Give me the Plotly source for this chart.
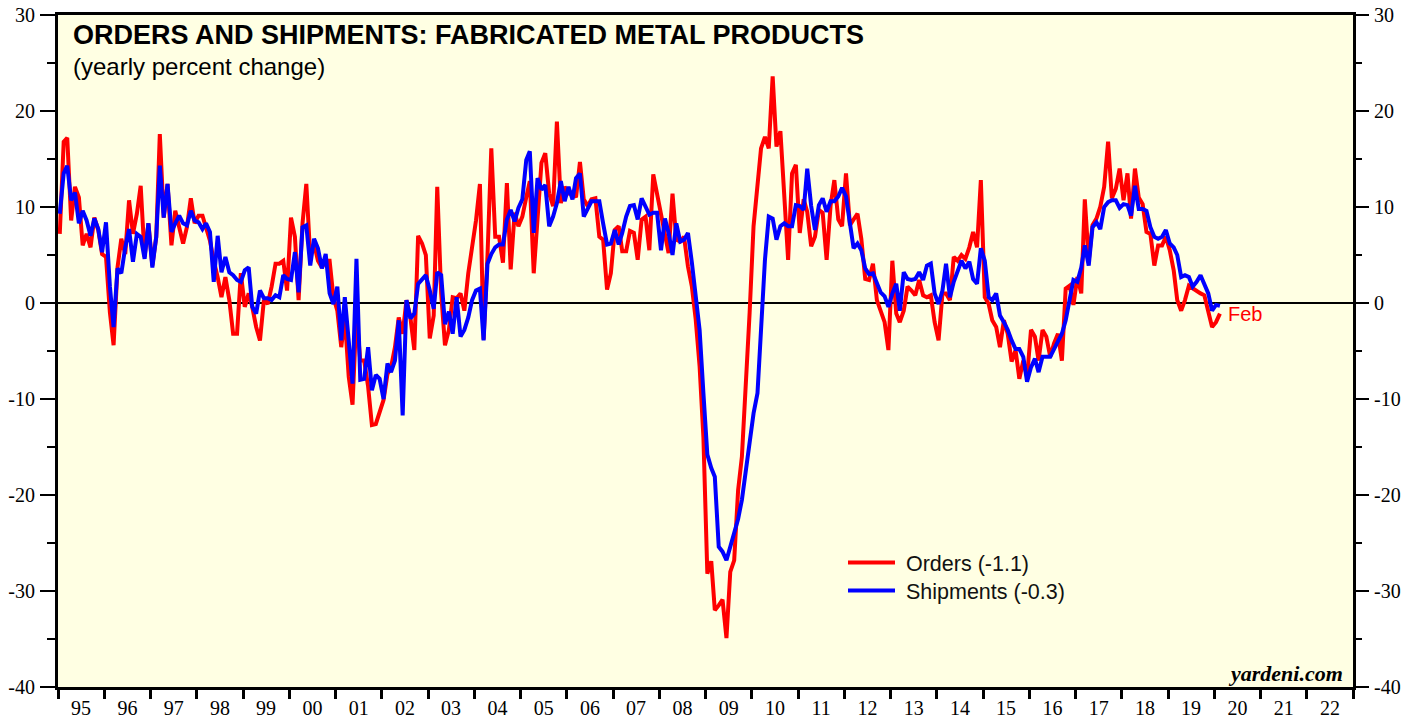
import pandas as pd
import plotly.graph_objects as go

# ---------------- data (yearly % change, monthly, Jan 1995 - Feb 2020) -------------
start_month = "1995-01"

orders = [
    7.2, 16.8, 17.2, 8.6, 12.1, 11.0, 6.0, 7.2, 5.8, 8.9, 7.6, 5.1,            # 1995
    4.8, -1.0, -4.4, 3.7, 6.7, 5.1, 10.7, 7.2, 9.3, 12.2, 4.8, 8.3,            # 1996
    3.9, 6.9, 17.6, 8.9, 12.4, 6.0, 9.6, 7.9, 6.2, 7.9, 10.9, 8.3,             # 1997
    9.1, 9.1, 7.9, 6.5, 4.4, 2.7, 0.6, 2.7, 0.3, -3.2, -3.2, 3.1,              # 1998
    -0.4, 1.0, -0.4, -2.5, -3.9, 0.3, -0.1, 1.7, 4.1, 4.1, 4.4, 1.3,           # 1999
    8.9, 6.9, 0.3, 8.3, 12.4, 4.8, 6.2, 4.4, 3.7, 4.4, 4.4, 0.6,               # 2000
    -0.8, -4.6, -1.5, -7.7, -10.6, -1.1, -6.0, -6.0, -8.7, -12.7, -12.6, -11.5,  # 2001
    -10.1, -7.4, -6.7, -4.6, -1.5, -3.2, 0.3, -1.5, -4.9, 7.0, 6.2, 5.0,       # 2002
    -3.7, -1.3, 12.1, 1.0, -4.4, -2.8, 0.6, 0.5, 1.0, -0.8, 3.1, 5.8,          # 2003
    8.6, 12.4, -3.8, 5.0, 16.1, 6.9, 6.9, 4.2, 12.5, 3.5, 9.4, 8.0,            # 2004
    9.0, 11.0, 12.7, 3.1, 9.0, 14.6, 15.6, 11.4, 10.1, 18.9, 10.4, 12.1,       # 2005
    11.4, 11.5, 11.0, 14.7, 10.8, 10.1, 10.8, 10.9, 6.9, 6.6, 1.4, 3.1,        # 2006
    7.6, 8.0, 5.4, 5.4, 7.5, 7.3, 4.5, 8.7, 9.0, 5.5, 13.4, 11.4,              # 2007
    9.4, 6.9, 5.2, 11.4, 6.6, 6.4, 6.9, 3.8, 1.7, -1.7, -6.6, -14.0,           # 2008
    -28.2, -26.9, -32.0, -31.5, -30.9, -34.9, -28.0, -26.8, -19.5, -16.0, -9.0, -1.0,  # 2009
    8.0, 12.0, 16.1, 17.3, 16.1, 23.6, 16.3, 17.9, 11.4, 4.5, 13.5, 14.4,      # 2010
    7.3, 10.8, 9.5, 5.9, 6.9, 9.7, 9.4, 4.5, 10.1, 12.8, 8.7, 8.0,             # 2011
    13.5, 8.1, 8.7, 9.3, 6.7, 2.5, 2.4, 4.1, 0.3, -0.7, -2.0, -4.9,            # 2012
    4.4, -1.1, -2.0, -0.8, 1.7, 1.3, 0.8, 2.4, 0.8, 0.6, 0.8, -2.0,            # 2013
    -3.9, 1.0, 1.0, 0.3, 4.8, 4.4, 5.0, 4.6, 5.8, 7.4, 5.8, 12.8,              # 2014
    0.6, -0.1, -1.8, -2.5, -4.6, -1.8, -3.2, -6.1, -4.9, -7.9, -6.0, -7.7,     # 2015
    -2.8, -3.5, -6.0, -2.8, -3.5, -5.6, -4.2, -3.2, -6.0, 1.5, 1.8, -0.2,      # 2016
    2.7, 1.0, 10.8, 4.4, 8.1, 8.8, 10.0, 12.1, 16.8, 10.9, 11.9, 14.0,         # 2017
    10.7, 13.5, 8.8, 14.0, 11.0, 10.3, 7.4, 7.2, 3.9, 6.0, 6.0, 6.9,           # 2018
    5.5, 3.4, 0.3, -0.8, 0.3, 1.8, 1.5, 1.3, 1.0, 0.8, -1.1, -2.5,             # 2019
    -2.0, -1.1,                                                                # 2020
]

shipments = [
    9.3, 13.5, 14.3, 10.7, 11.5, 8.3, 9.6, 8.6, 7.0, 8.8, 7.7, 5.3,            # 1995
    8.4, 1.7, -2.5, 3.6, 3.1, 5.8, 7.7, 4.3, 7.2, 6.9, 4.6, 8.3,               # 1996
    3.7, 6.9, 14.3, 8.9, 12.4, 7.4, 8.3, 9.1, 8.3, 8.1, 9.6, 8.6,              # 1997
    8.4, 7.7, 8.3, 7.4, 2.2, 7.0, 3.2, 4.8, 3.2, 2.9, 2.4, 2.2,                # 1998
    3.4, 3.7, -0.4, -1.1, 1.3, 0.5, 0.5, 0.3, 0.8, 0.6, 2.9, 2.5,              # 1999
    2.4, 5.3, 1.1, 7.9, 8.1, 3.9, 6.7, 5.7, 3.6, 5.1, 1.0, -0.1,               # 2000
    1.7, -3.9, 0.6, -4.6, -8.4, 4.6, -8.0, -7.9, -4.6, -9.1, -7.5, -7.9,       # 2001
    -10.0, -6.3, -7.2, -6.0, -1.8, -11.7, 0.3, -1.6, -1.1, 2.0, 2.4, 2.9,      # 2002
    1.3, -0.6, 3.2, 2.9, -2.2, -0.9, -3.2, 0.6, -3.5, -2.8, -1.5, 0.3,         # 2003
    1.3, 1.5, -3.9, 4.1, 5.1, 5.8, 6.1, 6.1, 8.7, 9.7, 8.5, 9.9,               # 2004
    10.8, 14.9, 15.8, 7.3, 13.0, 11.8, 12.3, 8.0, 9.0, 10.4, 12.7, 10.6,       # 2005
    12.1, 10.8, 13.0, 13.5, 9.0, 9.9, 10.6, 10.6, 10.6, 8.3, 6.1, 6.2,         # 2006
    7.6, 6.1, 7.3, 9.0, 10.1, 10.2, 8.7, 10.9, 10.1, 9.2, 9.4, 9.4,            # 2007
    5.5, 8.8, 7.3, 5.0, 8.3, 6.4, 6.6, 7.3, 4.2, 0.7, -2.8, -9.4,              # 2008
    -15.8, -17.2, -18.1, -25.4, -25.9, -26.8, -25.5, -24.0, -22.5, -20.5, -17.6, -14.5,  # 2009
    -11.5, -9.4, -2.4, 4.5, 9.0, 8.8, 6.6, 8.0, 8.3, 8.0, 8.0, 10.2,           # 2010
    10.1, 9.7, 14.0, 10.1, 7.6, 10.2, 10.9, 9.5, 10.6, 10.6, 11.1, 12.0,       # 2011
    11.1, 8.6, 5.7, 6.2, 5.5, 3.6, 3.0, 3.1, 2.0, 1.1, 0.7, -0.4,              # 2012
    1.0, 2.0, -0.8, 3.2, 2.5, 2.4, 2.5, 3.2, 2.4, 3.9, 4.1, 1.0,               # 2013
    -0.1, 1.3, 4.1, 0.6, 2.2, 3.4, 4.4, 3.6, 4.3, 2.5, 2.0, 5.7,               # 2014
    4.4, 0.6, 0.3, 1.0, -1.3, -2.0, -2.8, -3.9, -4.8, -4.8, -5.6, -8.2,        # 2015
    -6.7, -5.8, -7.2, -5.6, -5.6, -5.6, -4.8, -3.9, -3.2, -1.8, 0.3, 2.4,      # 2016
    2.2, 3.7, 6.0, 3.9, 7.9, 8.4, 7.7, 10.0, 10.5, 10.7, 10.7, 9.9,            # 2017
    10.3, 10.2, 9.1, 12.2, 9.8, 9.8, 9.6, 7.9, 6.9, 6.7, 6.9, 7.6,             # 2018
    6.2, 5.8, 5.0, 2.7, 2.9, 2.7, 1.7, 2.2, 2.9, 2.0, 1.0, -0.8,               # 2019
    -0.2, -0.3,                                                                # 2020
]

y_ticks = [-40, -30, -20, -10, 0, 10, 20, 30]
y_minor = [-35, -25, -15, -5, 5, 15, 25]
x_start, x_end = "1995-01-01", "2023-01-01"

title = "ORDERS AND SHIPMENTS: FABRICATED METAL PRODUCTS"
subtitle = "(yearly percent change)"
last_label = "Feb"
source = "yardeni.com"

# ---------------- figure -------------
months = pd.period_range(start_month, periods=len(orders), freq="M")
dates = [p.start_time + pd.Timedelta(days=14) for p in months]

# The page body margin is removed (post_script), so the figure fills the window.
W, H = 1421, 719
PLOT_L, PLOT_R, PLOT_T, PLOT_B = 58, 1353, 15, 687      # window pixels
ML, MR = PLOT_L, W - PLOT_R
MT, MB = PLOT_T, H - PLOT_B
PW, PH = PLOT_R - PLOT_L, PLOT_B - PLOT_T


def px_x(px):
    return (px - PLOT_L) / PW


def px_y(py):
    return (PLOT_B - py) / PH


nb = "\u00a0"
orders_name = nb + "Orders (%.1f)" % orders[-1]
ship_name = nb + "Shipments (%.1f)" % shipments[-1]

fig = go.Figure()
fig.add_trace(go.Scatter(x=dates, y=orders, mode="lines", name=orders_name,
                         line=dict(color="#FF0000", width=4), legend="legend"))
fig.add_trace(go.Scatter(x=dates, y=shipments, mode="lines", name=ship_name,
                         line=dict(color="#0000FF", width=4), yaxis="y2",
                         legend="legend2"))

serif = dict(family="Liberation Serif, Times New Roman, serif", size=20, color="black")
sans = "Liberation Sans, Arial, Helvetica, sans-serif"
tick_text = [str(v) for v in y_ticks]

yaxis_common = dict(
    range=[-40, 30], tickmode="array", tickvals=y_ticks, ticktext=tick_text,
    ticks="outside", ticklen=15, tickwidth=2, tickcolor="black",
    minor=dict(tickmode="array", tickvals=y_minor, ticks="outside", ticklen=8,
               tickwidth=2, tickcolor="black", showgrid=False),
    showgrid=False, tickfont=serif, fixedrange=True, ticklabelstandoff=1,
    ticklabeloverflow="allow", automargin=False,
)

legend_common = dict(xanchor="left", yanchor="top", bgcolor="rgba(0,0,0,0)",
                     font=dict(family=sans, size=21.5, color="#111"),
                     itemwidth=47, tracegroupgap=0)

fig.update_layout(
    width=W, height=H, autosize=False,
    margin=dict(l=ML, r=MR, t=MT, b=MB, pad=0, autoexpand=False),
    paper_bgcolor="white", plot_bgcolor="#FFFFE3",
    showlegend=True,
    legend=dict(x=px_x(843), y=px_y(542), **legend_common),
    legend2=dict(x=px_x(843), y=px_y(570), **legend_common),
    xaxis=dict(
        type="date", range=[x_start, x_end], tick0=x_start, dtick="M12",
        ticklabelmode="period", tickformat="%y",
        ticks="outside", ticklen=9, tickwidth=3, tickcolor="black",
        showline=True, linewidth=3, linecolor="black", mirror=True,
        showgrid=False, zeroline=False, tickfont=serif, fixedrange=True,
        ticklabelstandoff=-8, ticklabeloverflow="allow", automargin=False,
    ),
    yaxis=dict(side="left", showline=True, linewidth=3, linecolor="black", mirror=True,
               zeroline=True, zerolinecolor="black", zerolinewidth=1.2, **yaxis_common),
    yaxis2=dict(side="right", overlaying="y", anchor="x", showline=False,
                zeroline=False, **yaxis_common),
    annotations=[
        dict(text="<b>%s</b>" % title, xref="paper", yref="paper",
             x=px_x(71), y=px_y(35), xanchor="left", yanchor="middle", showarrow=False,
             font=dict(family=sans, size=27, color="black")),
        dict(text=subtitle, xref="paper", yref="paper",
             x=px_x(71), y=px_y(67), xanchor="left", yanchor="middle", showarrow=False,
             font=dict(family=sans, size=24, color="black")),
        dict(text="<b><i>%s</i></b>" % source, xref="paper", yref="paper",
             x=px_x(1345), y=px_y(673), xanchor="right", yanchor="middle", showarrow=False,
             font=dict(family="Liberation Serif, Times New Roman, serif", size=22, color="black")),
        dict(text=last_label, x=dates[-1], y=orders[-1], xref="x", yref="y",
             xanchor="left", yanchor="middle", xshift=6, showarrow=False,
             font=dict(family=sans, size=20, color="#FF0000")),
    ],
)

fig.write_html("out.html",
               config={"displayModeBar": False, "staticPlot": True},
               post_script="document.body.style.margin='0px';"
                           "document.body.style.overflow='hidden';")
